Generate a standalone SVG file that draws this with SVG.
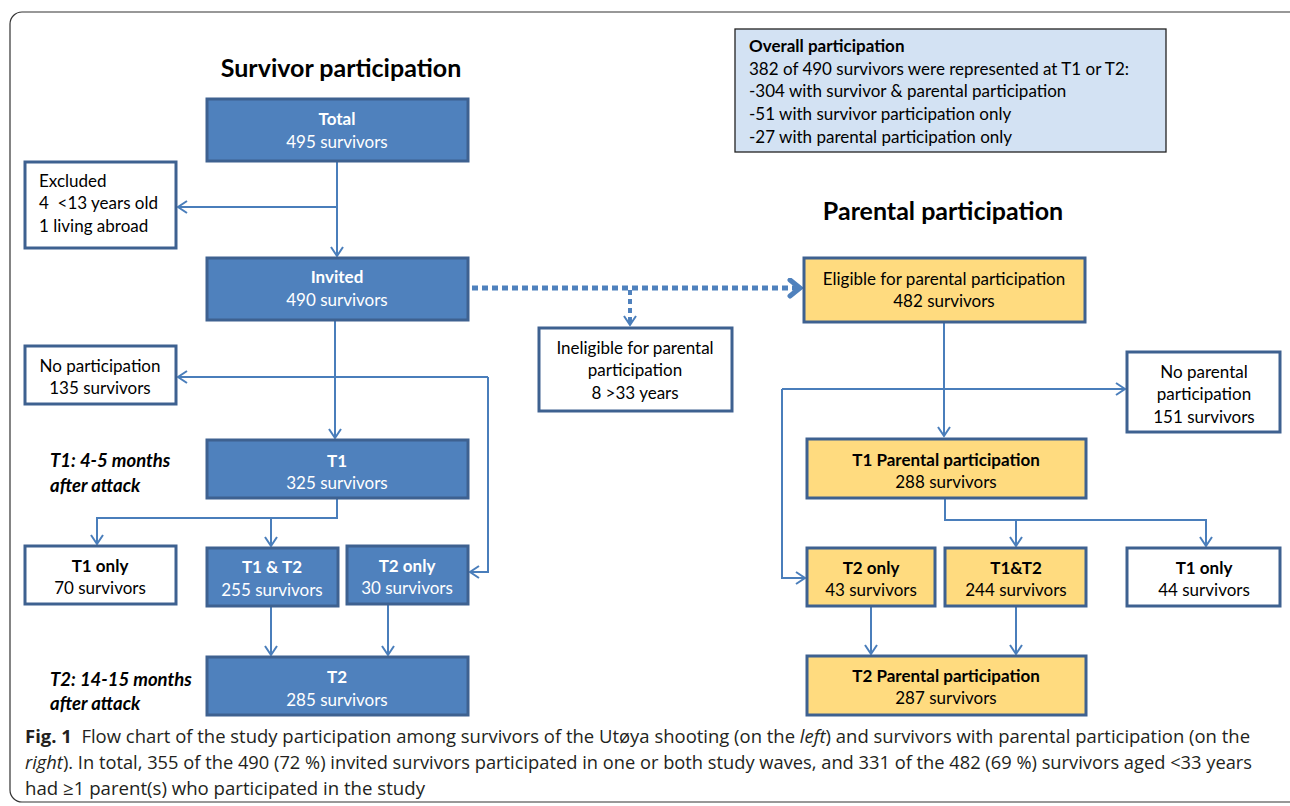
<svg xmlns="http://www.w3.org/2000/svg" width="1290" height="806" viewBox="0 0 1290 806">
<defs>
<style>
.bx{stroke:#3E6190;stroke-width:3}
.blue{fill:#4F81BD}
.yel{fill:#FFDB7F}
.wht{fill:#FFFFFF}
.t{font-family:Lato,"Liberation Sans",sans-serif;font-size:17px;text-anchor:middle}
.tw{fill:#FFFFFF}
.tk{fill:#000000}
.b{font-weight:bold}
.c{fill:none;stroke:#4A7EBB;stroke-width:2}
.ttl{font-family:Lato,"Liberation Sans",sans-serif;font-size:25px;font-weight:bold;text-anchor:middle;fill:#000}
.lab{font-family:Lato,"Liberation Sans",sans-serif;font-size:18.5px;font-weight:bold;font-style:italic;fill:#000}
.cap{font-family:"Open Sans","Liberation Sans",sans-serif;font-size:18px;fill:#231F20}
</style>
<marker id="ar" markerUnits="userSpaceOnUse" markerWidth="16" markerHeight="16" refX="11" refY="7" orient="auto">
<path d="M2,1 L11,7 L2,13" fill="none" stroke="#4A7EBB" stroke-width="2"/>
</marker>
<marker id="ard" markerUnits="userSpaceOnUse" markerWidth="20" markerHeight="24" refX="14" refY="10" orient="auto">
<path d="M4,2 L14,10 L4,18" fill="none" stroke="#4F81BD" stroke-width="5" stroke-linecap="round"/>
</marker>
</defs>
<rect x="0" y="0" width="1290" height="806" fill="#FFFFFF"/>
<rect x="10" y="12" width="1300" height="790" rx="12" fill="none" stroke="#333" stroke-width="1.2"/>

<text class="ttl" x="341" y="77">Survivor participation</text>
<text class="ttl" x="943" y="220">Parental participation</text>
<text class="lab" x="50" y="467">T1: 4-5 months</text>
<text class="lab" x="50" y="492">after attack</text>
<text class="lab" x="50" y="686">T2: 14-15 months</text>
<text class="lab" x="50" y="710">after attack</text>

<g id="connectors">
<path class="c" d="M337,162 V256" marker-end="url(#ar)"/>
<path class="c" d="M337,207 H178" marker-end="url(#ar)"/>
<path class="c" d="M335,320 V438" marker-end="url(#ar)"/>
<path class="c" d="M488,377 H178" marker-end="url(#ar)"/>
<path class="c" d="M488,377 V572 H470" marker-end="url(#ar)"/>
<path class="c" d="M337,498 V518 H97 V544" marker-end="url(#ar)"/>
<path class="c" d="M271,518 V546" marker-end="url(#ar)"/>
<path class="c" d="M271,606 V655" marker-end="url(#ar)"/>
<path class="c" d="M388,604 V655" marker-end="url(#ar)"/>
<path d="M462,288 H800" fill="none" stroke="#4F81BD" stroke-width="5" stroke-dasharray="6 4" marker-end="url(#ard)"/>
<path d="M630,290 V322" fill="none" stroke="#4F81BD" stroke-width="4" stroke-dasharray="5 4"/>
<path class="c" d="M630,318 V325" marker-end="url(#ar)"/>
<path class="c" d="M944,322 V436" marker-end="url(#ar)"/>
<path class="c" d="M782,389 H1125" marker-end="url(#ar)"/>
<path class="c" d="M782,389 V578 H805" marker-end="url(#ar)"/>
<path class="c" d="M945,498 V520 H1206 V546" marker-end="url(#ar)"/>
<path class="c" d="M1016,520 V546" marker-end="url(#ar)"/>
<path class="c" d="M871,606 V654" marker-end="url(#ar)"/>
<path class="c" d="M1016,606 V654" marker-end="url(#ar)"/>
</g>

<g id="overall">
<rect x="735" y="29" width="431" height="123" fill="#D3E2F3" stroke="#222" stroke-width="1.3"/>
<text class="t tk b" x="749" y="52" style="text-anchor:start">Overall participation</text>
<text class="t tk" x="749" y="75" style="text-anchor:start">382 of 490 survivors were represented at T1 or T2:</text>
<text class="t tk" x="749" y="97" style="text-anchor:start">-304 with survivor &amp; parental participation</text>
<text class="t tk" x="749" y="120" style="text-anchor:start">-51 with survivor participation only</text>
<text class="t tk" x="749" y="143" style="text-anchor:start">-27 with parental participation only</text>
</g>

<g id="total">
<rect class="bx blue" x="207" y="99" width="261" height="62"/>
<text class="t tw b" x="337" y="125">Total</text>
<text class="t tw" x="337" y="148">495 survivors</text>
</g>
<g id="excluded">
<rect class="bx wht" x="25" y="162" width="151" height="86"/>
<text class="t tk" x="39" y="187" style="text-anchor:start">Excluded</text>
<text class="t tk" x="39" y="209" style="text-anchor:start">4&#160; &lt;13 years old</text>
<text class="t tk" x="39" y="232" style="text-anchor:start">1 living abroad</text>
</g>
<g id="invited">
<rect class="bx blue" x="207" y="258" width="261" height="62"/>
<text class="t tw b" x="337" y="283">Invited</text>
<text class="t tw" x="337" y="306">490 survivors</text>
</g>
<g id="ineligible">
<rect class="bx wht" x="539" y="328" width="193" height="83"/>
<text class="t tk" x="635" y="354">Ineligible for parental</text>
<text class="t tk" x="635" y="376">participation</text>
<text class="t tk" x="635" y="399">8 &gt;33 years</text>
</g>
<g id="noparticipation">
<rect class="bx wht" x="25" y="346" width="151" height="58"/>
<text class="t tk" x="100" y="372">No participation</text>
<text class="t tk" x="100" y="394">135 survivors</text>
</g>
<g id="t1">
<rect class="bx blue" x="207" y="440" width="261" height="58"/>
<text class="t tw b" x="337" y="467">T1</text>
<text class="t tw" x="337" y="489">325 survivors</text>
</g>
<g id="t1only">
<rect class="bx wht" x="25" y="546" width="151" height="58"/>
<text class="t tk b" x="100" y="572">T1 only</text>
<text class="t tk" x="100" y="594">70 survivors</text>
</g>
<g id="t1t2">
<rect class="bx blue" x="207" y="548" width="131" height="58"/>
<text class="t tw b" x="272" y="573">T1 &amp; T2</text>
<text class="t tw" x="272" y="596">255 survivors</text>
</g>
<g id="t2only">
<rect class="bx blue" x="347" y="546" width="121" height="58"/>
<text class="t tw b" x="407" y="572">T2 only</text>
<text class="t tw" x="407" y="594">30 survivors</text>
</g>
<g id="t2">
<rect class="bx blue" x="207" y="657" width="261" height="58"/>
<text class="t tw b" x="337" y="683">T2</text>
<text class="t tw" x="337" y="706">285 survivors</text>
</g>

<g id="eligible">
<rect class="bx yel" x="804" y="258" width="281" height="64"/>
<text class="t tk" x="944" y="285">Eligible for parental participation</text>
<text class="t tk" x="944" y="307">482 survivors</text>
</g>
<g id="noparental">
<rect class="bx wht" x="1127" y="352" width="153" height="80"/>
<text class="t tk" x="1204" y="378">No parental</text>
<text class="t tk" x="1204" y="400">participation</text>
<text class="t tk" x="1204" y="423">151 survivors</text>
</g>
<g id="t1parental">
<rect class="bx yel" x="807" y="439" width="279" height="59"/>
<text class="t tk b" x="946" y="466">T1 Parental participation</text>
<text class="t tk" x="946" y="488">288 survivors</text>
</g>
<g id="pt2only">
<rect class="bx yel" x="807" y="548" width="128" height="58"/>
<text class="t tk b" x="871" y="574">T2 only</text>
<text class="t tk" x="871" y="596">43 survivors</text>
</g>
<g id="pt1t2">
<rect class="bx yel" x="945" y="548" width="141" height="58"/>
<text class="t tk b" x="1016" y="574">T1&amp;T2</text>
<text class="t tk" x="1016" y="596">244 survivors</text>
</g>
<g id="pt1only">
<rect class="bx wht" x="1127" y="548" width="153" height="58"/>
<text class="t tk b" x="1204" y="574">T1 only</text>
<text class="t tk" x="1204" y="596">44 survivors</text>
</g>
<g id="t2parental">
<rect class="bx yel" x="807" y="656" width="279" height="59"/>
<text class="t tk b" x="946" y="682">T2 Parental participation</text>
<text class="t tk" x="946" y="704">287 survivors</text>
</g>

<g id="caption">
<text class="cap" x="25" y="743" textLength="1225" lengthAdjust="spacingAndGlyphs"><tspan font-weight="bold">Fig. 1</tspan>&#160; Flow chart of the study participation among survivors of the Utøya shooting (on the <tspan font-style="italic">left</tspan>) and survivors with parental participation (on the</text>
<text class="cap" x="25" y="769" textLength="1227" lengthAdjust="spacingAndGlyphs"><tspan font-style="italic">right</tspan>). In total, 355 of the 490 (72 %) invited survivors participated in one or both study waves, and 331 of the 482 (69 %) survivors aged &lt;33 years</text>
<text class="cap" x="25" y="795" textLength="400" lengthAdjust="spacingAndGlyphs">had ≥1 parent(s) who participated in the study</text>
</g>
</svg>
